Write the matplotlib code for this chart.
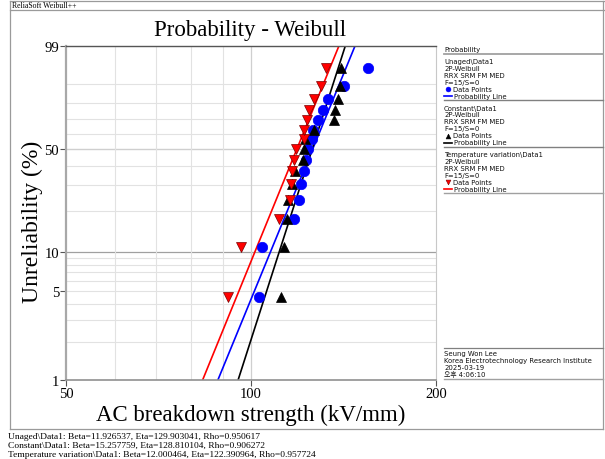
import numpy as np
import matplotlib.pyplot as plt
from matplotlib.lines import Line2D

plt.rcParams['font.family'] = ['Liberation Serif', 'DejaVu Serif']

W, H = 605, 460

# Weibull fit results (shown in the footer)
groups = ['Unaged\\Data1', 'Constant\\Data1', 'Temperature variation\\Data1']
beta = [11.926537, 15.257759, 12.000464]
eta = [129.903041, 128.810104, 122.390964]
rho = [0.950617, 0.906272, 0.957724]

# median ranks (%) for 15 failures
rank_pct = [4.52, 10.94, 17.43, 23.94, 30.45, 36.97, 43.48, 50.00,
            56.52, 63.03, 69.55, 76.06, 82.57, 89.06, 95.48]

# breakdown strength (kV/mm)
unaged = [102.9, 104.4, 117.3, 119.5, 120.4, 121.8, 122.7, 123.7,
          125.5, 126.0, 128.4, 130.8, 133.3, 141.6, 154.9]
constant = [112.1, 113.0, 114.3, 114.7, 116.4, 117.8, 121.4, 121.8,
            122.3, 126.5, 136.3, 136.9, 138.4, 139.5, 140.0]
temp_var = [91.6, 96.5, 110.9, 115.6, 116.0, 116.4, 117.3, 118.2,
            121.8, 121.8, 123.2, 124.1, 126.5, 129.8, 132.3]

colors = ['#0000ff', '#000000', '#ff0000']
markers = ['o', '^', 'v']
series = [unaged, constant, temp_var]

y_ticks = [1, 5, 10, 50, 99]
y_grid = [1, 2, 3, 4, 5, 6, 7, 8, 9, 10, 20, 30, 40, 50, 60, 70, 80, 90, 99]
x_ticks = [50, 100, 200]
x_grid = [60, 70, 80, 90, 100]


def wb(p):
    return np.log(-np.log(1 - np.asarray(p, dtype=float) / 100.0))


def fx(px):
    return px / W


def fy(py):
    return 1 - py / H


fig = plt.figure(figsize=(W / 100, H / 100), dpi=100)
ax = fig.add_axes([fx(66), fy(381), (436 - 66) / W, (381 - 47) / H])
ax.set_xscale('log')
ax.set_xlim(50, 200)
ax.set_ylim(wb(1), wb(99))

for g in y_grid:
    c, lw = '#e2e2e2', 0.8
    if g == 10:
        c, lw = '#a0a0a0', 0.9
    elif g == 50:
        c, lw = '#cfcfcf', 1.0
    ax.axhline(wb(g), color=c, lw=lw, zorder=0)
for g in x_grid:
    c = '#cfcfcf' if g == 100 else '#e2e2e2'
    ax.axvline(g, color=c, lw=0.9 if g == 100 else 0.8, zorder=0)

xs = np.array([40.0, 250.0])
for b, e, c in zip(beta, eta, colors):
    ax.plot(xs, b * (np.log(xs) - np.log(e)), color=c, lw=1.2, zorder=2)

for data, c, m in zip(series, colors, markers):
    ec = '#7a0000' if c == '#ff0000' else c
    ax.plot(data, wb(rank_pct), linestyle='none', marker=m, ms=7.5,
            mfc=c, mec=ec, mew=0.5, zorder=3, clip_on=False)

ax.set_yticks(wb(y_ticks))
ax.set_yticklabels([str(v) for v in y_ticks])
ax.set_xticks(x_ticks)
ax.set_xticklabels([str(v) for v in x_ticks])
ax.xaxis.set_minor_locator(plt.NullLocator())
ax.tick_params(direction='out', length=4, width=0.8, color='#555555',
               labelsize=10.5, pad=1)

ax.spines['left'].set_color('#a8a8a8')
ax.spines['left'].set_linewidth(1.6)
ax.spines['bottom'].set_color('#909090')
ax.spines['bottom'].set_linewidth(1.2)
ax.spines['top'].set_color('#555555')
ax.spines['top'].set_linewidth(1.0)
ax.spines['right'].set_color('#c8c8c8')
ax.spines['right'].set_linewidth(0.8)

ax.set_xlabel('AC breakdown strength (kV/mm)', fontsize=16.5, labelpad=3)
ax.set_ylabel('Unreliability (%)', fontsize=17, labelpad=1)
ax.yaxis.label.set_y(0.475)
fig.text(fx(250), fy(31), 'Probability - Weibull', fontsize=16.5,
         ha='center', va='center')

# frame around the chart
def fline(x0, y0, x1, y1, c='#9a9a9a', lw=0.9):
    fig.add_artist(Line2D([fx(x0), fx(x1)], [fy(y0), fy(y1)],
                          transform=fig.transFigure, color=c, lw=lw))

fline(10, 2, 605, 2)
fline(10, 11, 605, 11)
fline(10, 2, 10, 430)
fline(603, 2, 603, 430)
fline(10, 430, 603, 430)
fig.text(fx(12), fy(6.5), 'ReliaSoft Weibull++', fontsize=5.6,
         ha='left', va='center')

# legend panel
lf = ['DejaVu Sans', 'Noto Sans CJK KR']
ls = 4.95


def ltxt(px, py, s):
    fig.text(fx(px), fy(py), s, fontsize=ls, family=lf, ha='left',
             va='center', color='#111111')


ltxt(444, 50, 'Probability')
fline(444, 55, 603, 55, c='#a0a0a0', lw=1.3)
y0 = 62
for i, name in enumerate(groups):
    rows = [name, '2P-Weibull', 'RRX SRM FM MED', 'F=15/S=0']
    for j, r in enumerate(rows):
        ltxt(444, y0 + 7 * j, r)
    ec = '#7a0000' if colors[i] == '#ff0000' else colors[i]
    fig.add_artist(Line2D([fx(448)], [fy(y0 + 28)], transform=fig.transFigure,
                          marker=markers[i], ms=3.5, mfc=colors[i], mec=ec,
                          mew=0.4, linestyle='none'))
    ltxt(453, y0 + 28, 'Data Points')
    fline(444, y0 + 35, 452, y0 + 35, c=colors[i], lw=1.2)
    ltxt(454, y0 + 35, 'Probability Line')
    fline(444, y0 + 39, 603, y0 + 39, c='#808080' if i < 2 else '#a0a0a0',
          lw=1.0)
    y0 += 46.5

fline(444, 349, 603, 349, c='#808080', lw=0.9)
for j, r in enumerate(['Seung Won Lee', 'Korea Electrotechnology Research Institute',
                       '2025-03-19', '오후 4:06:10']):
    ltxt(444, 354 + 7 * j, r)
fline(444, 380, 603, 380, c='#a0a0a0', lw=1.0)

# footer with fit parameters
for i, name in enumerate(groups):
    fig.text(fx(8), fy(437 + 9 * i),
             '%s: Beta=%.6f, Eta=%.6f, Rho=%.6f' % (name, beta[i], eta[i], rho[i]),
             fontsize=6.8, ha='left', va='center')

fig.savefig('out.png', dpi=100)
